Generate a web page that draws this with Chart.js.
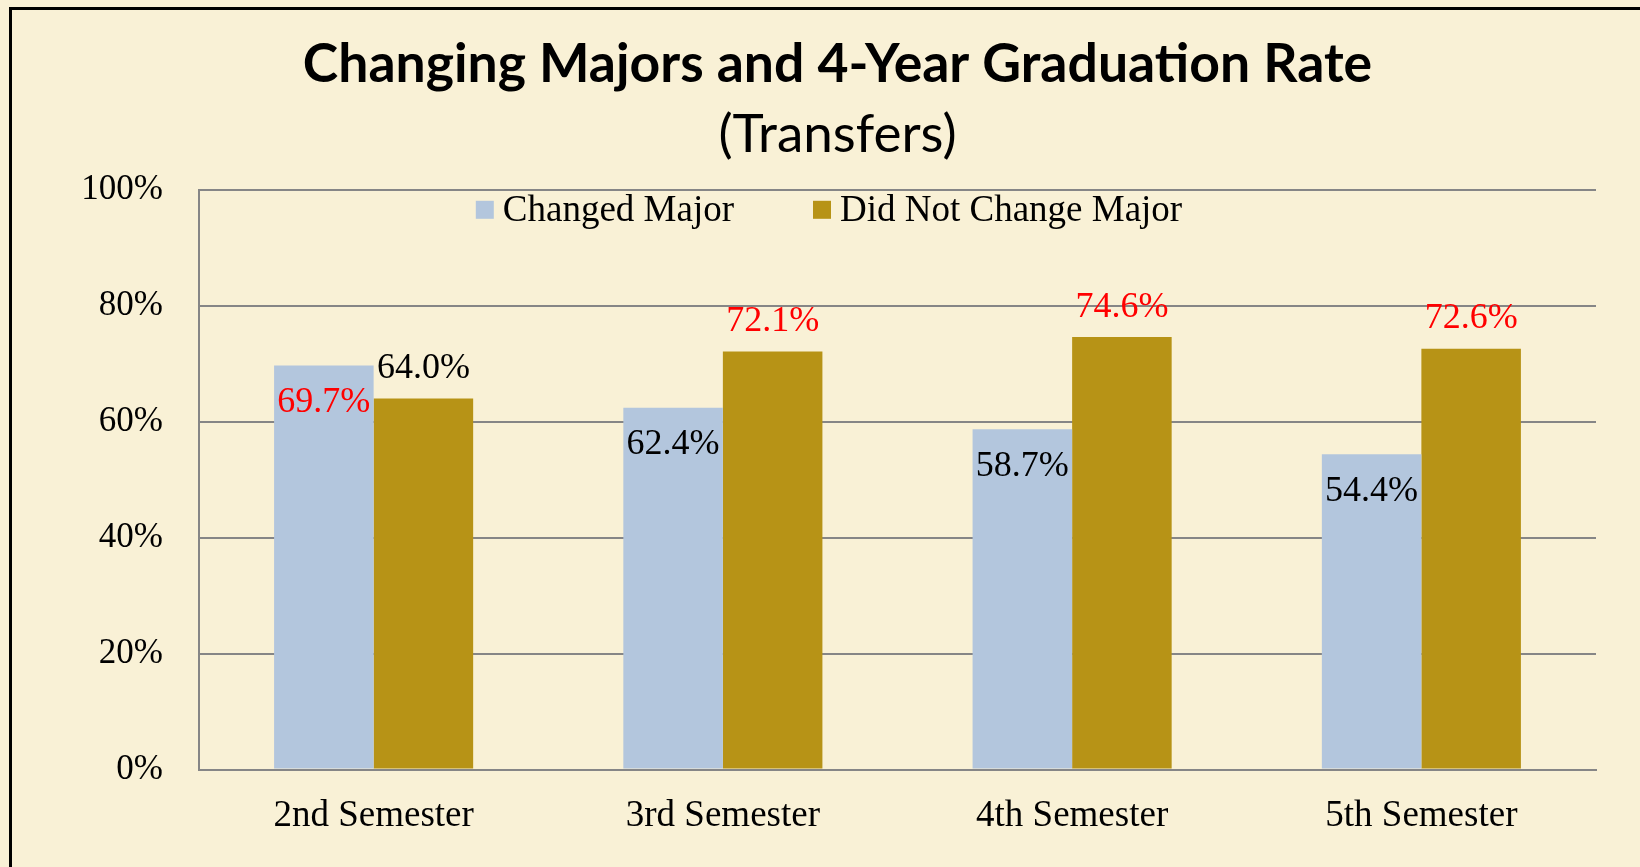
<!DOCTYPE html>
<html>
<head>
<meta charset="utf-8">
<script src="https://cdn.jsdelivr.net/npm/chart.js@4"></script>
<style>
  html, body { margin: 0; padding: 0; background: #f9f1d6; }
  .frame { position: relative; width: 1640px; height: 867px; }
  .frame::before {
    content: ''; position: absolute; left: 9px; top: 7px; right: 0; bottom: 0;
    border-left: 3px solid #000; border-top: 3px solid #000; pointer-events: none;
  }
  canvas { display: block; }
</style>
</head>
<body>
<div class="frame"><canvas id="chart" width="1640" height="867"></canvas></div>
<script>
const categories = ['2nd Semester', '3rd Semester', '4th Semester', '5th Semester'];
const changedMajor = [69.7, 62.4, 58.7, 54.4];
const didNotChange = [64.0, 72.1, 74.6, 72.6];
const yTicks = [0, 20, 40, 60, 80, 100];

const serif = '"Liberation Serif", "Times New Roman", serif';

// legend drawn inside the plot area, like the original
const topLegend = {
  id: 'topLegend',
  afterDraw(chart) {
    const ctx = chart.ctx;
    const area = chart.chartArea;
    const box = 18, gap = 9, itemGap = 79;
    ctx.save();
    ctx.font = '37px ' + serif;
    ctx.textBaseline = 'middle';
    ctx.textAlign = 'left';
    const items = chart.data.datasets.map(ds => ({
      label: ds.label, color: ds.backgroundColor, w: ctx.measureText(ds.label).width
    }));
    const total = items.reduce((s, it) => s + box + gap + it.w, 0) + itemGap * (items.length - 1);
    let x = chart.width / 2 + 9 - total / 2;
    const y = area.top + 20;
    items.forEach(it => {
      ctx.fillStyle = it.color;
      ctx.fillRect(x, y - box / 2, box, box);
      ctx.fillStyle = '#000';
      ctx.fillText(it.label, x + box + gap, y + 1);
      x += box + gap + it.w + itemGap;
    });
    ctx.restore();
  }
};

// value labels: larger value of each pair in red
const barLabels = {
  id: 'barLabels',
  afterDatasetsDraw(chart) {
    const ctx = chart.ctx;
    ctx.save();
    ctx.font = '36px ' + serif;
    ctx.textAlign = 'center';
    ctx.textBaseline = 'middle';
    chart.data.datasets.forEach((ds, di) => {
      chart.getDatasetMeta(di).data.forEach((bar, i) => {
        const v = ds.data[i];
        const top = Math.max(...chart.data.datasets.map(d => d.data[i]));
        ctx.fillStyle = v === top ? '#ff0000' : '#000000';
        const y = di === 0 ? bar.y + 37 : bar.y - 30;
        ctx.fillText(v.toFixed(1) + '%', bar.x, y);
      });
    });
    ctx.restore();
  }
};

new Chart(document.getElementById('chart'), {
  type: 'bar',
  data: {
    labels: categories,
    datasets: [
      { label: 'Changed Major', data: changedMajor, backgroundColor: '#b3c6dd' },
      { label: 'Did Not Change Major', data: didNotChange, backgroundColor: '#b79316' }
    ]
  },
  options: {
    responsive: false,
    animation: false,
    devicePixelRatio: 1,
    layout: { padding: { left: 79, right: 44, top: 0, bottom: 5 } },
    datasets: { bar: { categoryPercentage: 0.57, barPercentage: 1.0 } },
    plugins: {
      legend: { display: false },
      tooltip: { enabled: false },
      title: {
        display: true,
        text: 'Changing Majors and 4-Year Graduation Rate',
        color: '#000',
        font: { family: 'Lato', weight: 'bold', size: 53.5, lineHeight: 1.2 },
        padding: { top: 33, bottom: 0 }
      },
      subtitle: {
        display: true,
        text: '(Transfers)',
        color: '#000',
        font: { family: 'Lato', size: 53, lineHeight: 1.2 },
        padding: { top: 6, bottom: 23 }
      }
    },
    scales: {
      x: {
        grid: { display: false, drawTicks: false },
        border: { display: true, color: '#868686', width: 2 },
        ticks: { color: '#000', font: { family: serif, size: 37 }, padding: 24 }
      },
      y: {
        min: 0,
        max: 100,
        afterBuildTicks: scale => { scale.ticks = yTicks.map(v => ({ value: v })); },
        afterFit: scale => { scale.width = 120; },
        grid: { color: '#868686', lineWidth: 2, drawTicks: false },
        border: { display: true, color: '#868686', width: 2 },
        ticks: {
          color: '#000',
          font: { family: serif, size: 35 },
          padding: 36,
          callback: v => v + '%'
        }
      }
    }
  },
  plugins: [topLegend, barLabels]
});
</script>
</body>
</html>
